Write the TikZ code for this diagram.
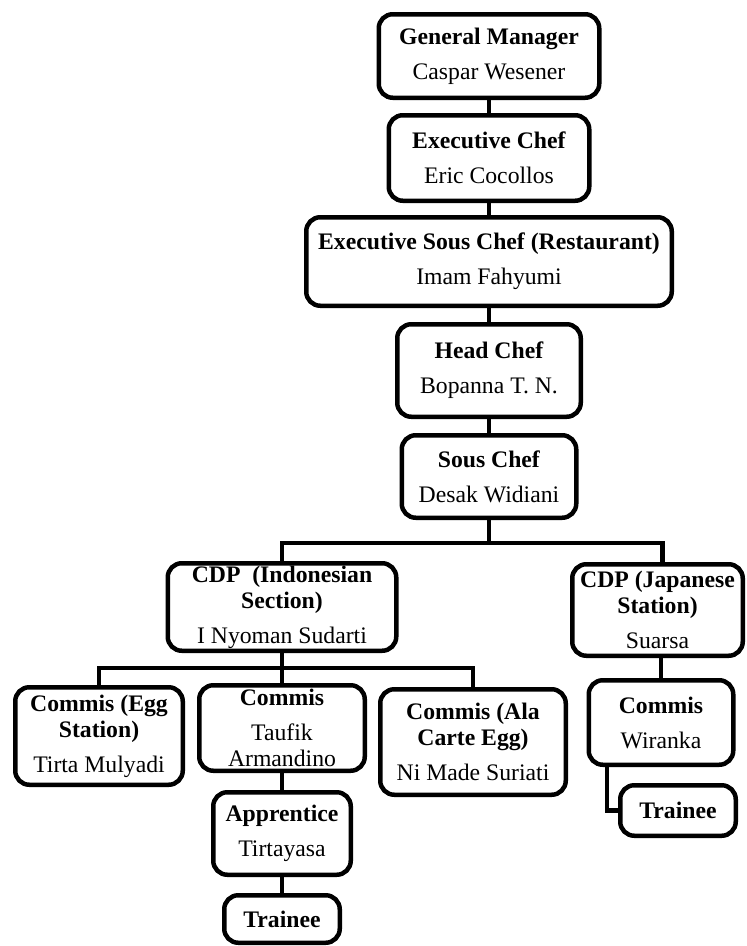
\documentclass[tikz,border=0pt]{standalone}
\usepackage{fontspec}
\setmainfont{Liberation Serif}
\begin{document}
\begin{tikzpicture}[x=1pt,y=-1pt,
  box/.style={draw=black, fill=white, line width=4.5pt, rounded corners=14pt,
    inner sep=0pt, align=center, font=\fontsize{23.7}{26}\selectfont},
  conn/.style={draw=black, line width=4.5pt}]
\fill[white] (0,0) rectangle (747,946);
\useasboundingbox (0,0) rectangle (747,946);
\coordinate (bus1) at (489,543);
\coordinate (bus2) at (282,668);
% boxes
\node[box, minimum width=220.5pt, minimum height=83.5pt] (gm) at (489,56) {\textbf{General Manager}\\[9pt]Caspar Wesener};
\node[box, minimum width=200.5pt, minimum height=85.5pt] (ec) at (489,158) {\textbf{Executive Chef}\\[9pt]Eric Cocollos};
\node[box, minimum width=365.5pt, minimum height=88.5pt] (esc) at (489,261.5) {\textbf{Executive Sous Chef (Restaurant)}\\[9pt]Imam Fahyumi};
\node[box, minimum width=183.5pt, minimum height=92.5pt] (hc) at (489,370.5) {\textbf{Head Chef}\\[9pt]Bopanna T. N.};
\node[box, minimum width=174.5pt, minimum height=82.5pt] (sc) at (489,476.5) {\textbf{Sous Chef}\\[9pt]Desak Widiani};
\node[box, minimum width=228.5pt, minimum height=87.5pt] (cdpi) at (282,607) {\textbf{CDP\ \ (Indonesian}\\\textbf{Section)}\\[9pt]I Nyoman Sudarti};
\node[box, minimum width=170.5pt, minimum height=91.5pt] (cdpj) at (657.5,610) {\textbf{CDP (Japanese}\\\textbf{Station)}\\[9pt]Suarsa};
\node[box, minimum width=167.5pt, minimum height=97.5pt] (ce) at (99,736) {\textbf{Commis (Egg}\\\textbf{Station)}\\[9pt]Tirta Mulyadi};
\node[box, minimum width=165.5pt, minimum height=85.5pt] (ct) at (282,728) {\textbf{Commis}\\[9pt]Taufik\\Armandino};
\node[box, minimum width=185.5pt, minimum height=105.5pt] (ca) at (473,742) {\textbf{Commis (Ala}\\\textbf{Carte Egg)}\\[9pt]Ni Made Suriati};
\node[box, minimum width=137.5pt, minimum height=82.5pt] (ap) at (282,833.5) {\textbf{Apprentice}\\[9pt]Tirtayasa};
\node[box, minimum width=115.5pt, minimum height=47.5pt] (tr1) at (282,919) {\textbf{Trainee}};
\node[box, minimum width=144.5pt, minimum height=84.5pt] (cw) at (661,722.5) {\textbf{Commis}\\[9pt]Wiranka};
\node[box, minimum width=115.5pt, minimum height=50.5pt] (tr2) at (678,810.5) {\textbf{Trainee}};
% connectors
\path[conn] (gm.south) -- (ec.north);
\path[conn] (ec.south) -- (esc.north);
\path[conn] (esc.south) -- (hc.north);
\path[conn] (hc.south) -- (sc.north);
\path[conn] (sc.south) -- (bus1);
\path[conn] (cdpi.north) |- (bus1) -| ([xshift=5pt]cdpj.north);
\path[conn] (cdpi.south) -- (bus2);
\path[conn] (ce.north) |- (bus2) -| (ca.north);
\path[conn] (bus2) -- (ct.north);
\path[conn] (ct.south) -- (ap.north);
\path[conn] (ap.south) -- (tr1.north);
\path[conn] (cw.north) -- (cw.north |- cdpj.south);
\path[conn] ([xshift=-54pt]cw.south) |- (tr2.west);
\end{tikzpicture}
\end{document}
